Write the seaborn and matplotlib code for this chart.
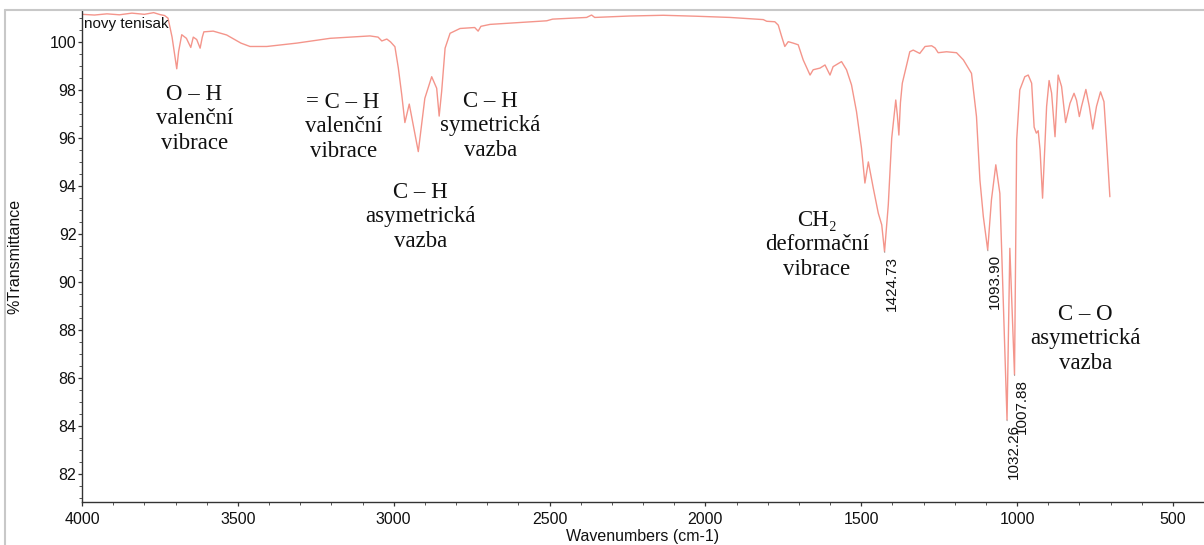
import matplotlib
matplotlib.use("Agg")
import matplotlib.pyplot as plt
import seaborn as sns
import pandas as pd
from matplotlib.ticker import MultipleLocator
from matplotlib.lines import Line2D

# ---- spectrum (wavenumber cm-1, %T) ----
wavenumbers = [
    4000, 3960, 3920, 3880, 3840, 3800, 3770, 3750, 3735, 3724, 3711, 3702, 3696, 3690,
    3680, 3665, 3651, 3643, 3632, 3621, 3614, 3609, 3579, 3536, 3490, 3461, 3407, 3311,
    3204, 3076, 3050, 3038, 3022, 3010, 2996, 2985, 2974, 2964, 2950, 2921, 2900, 2878,
    2862, 2854, 2846, 2835, 2819, 2787, 2740, 2729, 2720, 2691, 2616, 2509, 2490, 2381,
    2365, 2355, 2242, 2135, 2028, 1921, 1814, 1803, 1777, 1766, 1755, 1745, 1734, 1718,
    1702, 1686, 1664, 1654, 1632, 1616, 1600, 1590, 1563, 1547, 1531, 1515, 1499, 1488,
    1477, 1461, 1445, 1434, 1425, 1413, 1402, 1389, 1384, 1379, 1374, 1368, 1344, 1333,
    1312, 1295, 1274, 1263, 1253, 1226, 1194, 1172, 1146, 1130, 1119, 1108, 1094, 1082,
    1068, 1055, 1032, 1023, 1008, 1001, 991, 975, 964, 953, 945, 938, 932, 926,
    918, 905, 897, 889, 878, 868, 857, 844, 830, 817, 809, 800, 793, 779,
    768, 757, 745, 732, 721, 713, 702,
]
transmittance = [
    101.15, 101.12, 101.17, 101.13, 101.20, 101.15, 101.22, 101.14, 101.10, 100.99, 100.20, 99.40, 98.88, 99.60,
    100.30, 100.15, 99.77, 100.20, 100.10, 99.74, 100.20, 100.42, 100.45, 100.29, 99.95, 99.81, 99.81, 99.95,
    100.15, 100.25, 100.20, 100.04, 100.12, 100.00, 99.80, 98.91, 97.79, 96.64, 97.41, 95.43, 97.65, 98.55,
    98.07, 96.91, 97.94, 99.74, 100.36, 100.56, 100.60, 100.45, 100.65, 100.73, 100.79, 100.88, 100.95, 101.02,
    101.12, 101.02, 101.08, 101.11, 101.07, 101.02, 100.93, 100.86, 100.84, 100.70, 100.22, 99.81, 100.01, 99.95,
    99.88, 99.25, 98.62, 98.84, 98.91, 99.04, 98.62, 98.97, 99.18, 98.84, 98.21, 97.10, 95.58, 94.12,
    95.00, 93.90, 92.86, 92.38, 91.26, 93.21, 95.99, 97.58, 96.96, 96.12, 97.47, 98.28, 99.59, 99.66,
    99.52, 99.81, 99.84, 99.75, 99.55, 99.59, 99.55, 99.25, 98.69, 96.89, 94.25, 92.72, 91.33, 93.42,
    94.88, 93.69, 84.25, 91.40, 86.13, 95.92, 98.00, 98.55, 98.62, 98.28, 96.45, 96.20, 96.30, 95.50,
    93.49, 97.31, 98.39, 97.87, 96.05, 98.62, 98.14, 96.64, 97.44, 97.86, 97.57, 96.89, 97.31, 98.02,
    97.31, 96.37, 97.31, 97.92, 97.51, 95.92, 93.55,
]

# ---- labelled peaks ----
peak_wavenumbers = [1424.73, 1093.90, 1032.26, 1007.88]
peak_transmittance = [91.26, 91.33, 84.25, 86.13]
peak_labels = ["1424.73", "1093.90", "1032.26", "1007.88"]

# ---- band assignments ----
band_labels = [
    "O \u2013 H\nvalenční\nvibrace",
    "= C \u2013 H\nvalenční\nvibrace",
    "C \u2013 H\nasymetrická\nvazba",
    "C \u2013 H\nsymetrická\nvazba",
    "CH\u2082\ndeformační\nvibrace",
    "C \u2013 O\nasymetrická\nvazba",
]
band_wavenumbers = [3640, 3162, 2914, 2689, 1642, 781]
band_transmittance = [96.79, 96.46, 92.71, 96.50, 91.54, 87.63]

sample_name = "novy tenisak"
x_ticks = [4000, 3500, 3000, 2500, 2000, 1500, 1000, 500]
y_ticks = [82, 84, 86, 88, 90, 92, 94, 96, 98, 100]

sns.set_theme(style="white")
plt.rcParams["font.family"] = ["Liberation Sans", "DejaVu Sans"]

W, H = 1204, 545
fig = plt.figure(figsize=(W / 100, H / 100), dpi=100)
ax = fig.add_axes([82 / W, 1 - 502 / H, 1 - 82 / W, (502 - 10) / H])

df = pd.DataFrame({"wn": wavenumbers, "T": transmittance})
sns.lineplot(data=df, x="wn", y="T", ax=ax, color="#f4958b", lw=1.0,
             estimator=None, sort=False)

ax.set_xlim(4000, 400)
ax.set_ylim(80.83, 101.33)
ax.set_xticks(x_ticks)
ax.set_yticks(y_ticks)
ax.xaxis.set_minor_locator(MultipleLocator(100))
ax.yaxis.set_minor_locator(MultipleLocator(0.5))
ax.tick_params(axis="both", which="major", direction="out", length=3, width=0.9,
               color="#333333", labelsize=11.5, labelcolor="#111111")
ax.tick_params(axis="both", which="minor", direction="out", length=2, width=0.7,
               color="#555555")
ax.tick_params(axis="y", which="major", pad=1)
ax.tick_params(axis="x", which="major", pad=4)
ax.tick_params(axis="both", which="both", bottom=True, left=True)

for s in ["top", "right"]:
    ax.spines[s].set_visible(False)
for s in ["left", "bottom"]:
    ax.spines[s].set_color("#333333")
    ax.spines[s].set_linewidth(1.0)

ax.set_xlabel("Wavenumbers (cm-1)", fontsize=11.5, color="#111111", labelpad=2)
ax.set_ylabel("%Transmittance", fontsize=11.5, color="#111111", labelpad=20)
ax.grid(False)

ax.text(0.002, 0.986, sample_name, transform=ax.transAxes, ha="left", va="top",
        fontsize=11, color="#111111")

for wn, t, lab in zip(peak_wavenumbers, peak_transmittance, peak_labels):
    ax.annotate(lab, xy=(wn, t), xytext=(5, -3), textcoords="offset points",
                rotation=90, ha="center", va="top", fontsize=11, color="#111111",
                arrowprops=dict(arrowstyle="-", color="#999999", lw=0.6,
                                shrinkA=0, shrinkB=0))

for lab, wn, t in zip(band_labels, band_wavenumbers, band_transmittance):
    ax.text(wn, t, lab, ha="center", va="center", multialignment="center",
            fontsize=16.5, color="#111111", linespacing=1.2,
            family=["Liberation Serif", "DejaVu Serif"])

# light grey outer frame
fig.add_artist(Line2D([5 / W, 5 / W], [0, 1 - 10 / H], transform=fig.transFigure,
                      color="#c8c8c8", lw=1.5))
fig.add_artist(Line2D([5 / W, 1], [1 - 10 / H, 1 - 10 / H], transform=fig.transFigure,
                      color="#c8c8c8", lw=1.5))

fig.savefig("out.png", dpi=100)
